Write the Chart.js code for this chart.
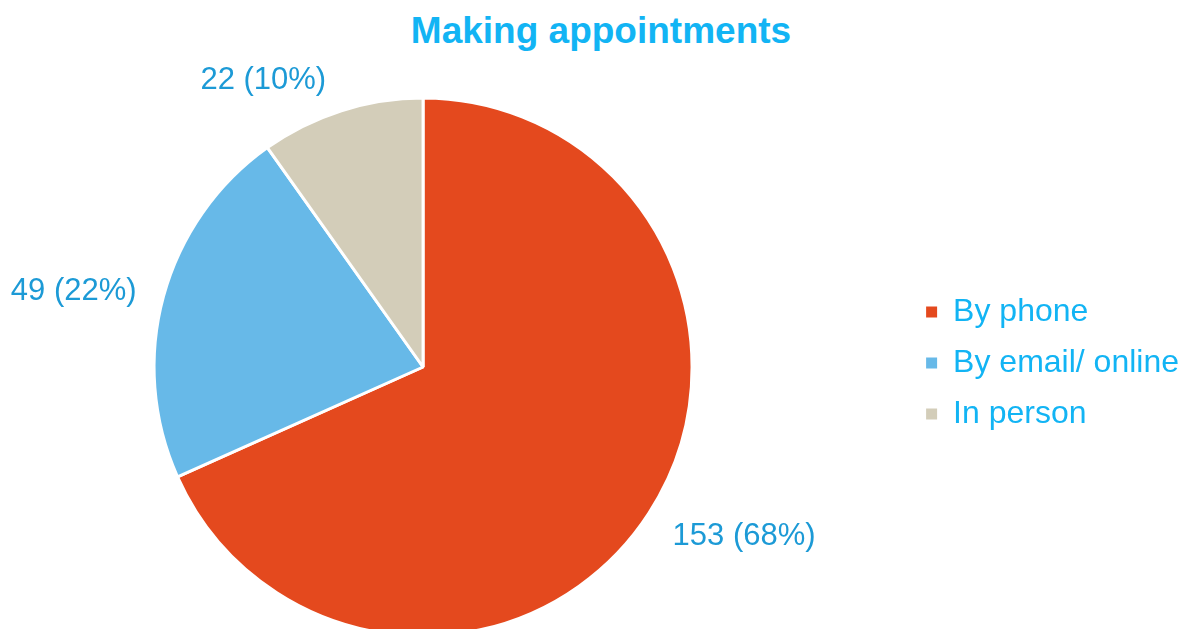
<!DOCTYPE html>
<html>
<head>
<meta charset="utf-8">
<script src="https://cdn.jsdelivr.net/npm/chart.js@4.4.1/dist/chart.umd.min.js"></script>
<style>
    html, body { margin: 0; padding: 0; background: #fff; overflow: hidden; width: 1185px; height: 629px; }
    #title {
        position: absolute; left: 0; top: 12px; width: 1202px;
        text-align: center; font: bold 37px "Liberation Sans", Arial, sans-serif;
        line-height: 37px; color: #12B4F4;
    }
    #wrap { position: absolute; left: -61px; top: 0; width: 1250px; height: 734px; }
</style>
</head>
<body>
<div id="title">Making appointments</div>
<div id="wrap"><canvas id="pieChart"></canvas></div>
<script>
// --------------------- DATA ------------------------
const categories = ['By phone', 'By email/ online', 'In person'];
const counts = [153, 49, 22];
const sliceColors = ['#E4491E', '#67B9E8', '#D3CDB9'];

// small hand nudges for the value labels (px), Excel moved these a bit
const labelNudge = [[16, 5], [-7, 4], [-52, 2]];

const labelColor = '#1C9AD6';
const textColor = '#12B4F4';

// --------------------- VALUE LABELS ------------------------
const valueLabels = {
    id: 'valueLabels',
    afterDatasetsDraw(chart) {
        const ctx = chart.ctx;
        const meta = chart.getDatasetMeta(0);
        const total = counts.reduce((a, b) => a + b, 0);

        ctx.save();
        ctx.font = '31px "Liberation Sans", Arial, sans-serif';
        ctx.fillStyle = labelColor;
        ctx.textAlign = 'center';
        ctx.textBaseline = 'middle';

        meta.data.forEach((arc, i) => {
            let p = arc.getProps(['x', 'y', 'startAngle', 'endAngle', 'outerRadius'], true);
            let mid = (p.startAngle + p.endAngle) / 2;
            let dx = Math.cos(mid), dy = Math.sin(mid);
            let txt = counts[i] + ' (' + Math.round(counts[i] / total * 100) + '%)';
            let w = ctx.measureText(txt).width;
            let r = p.outerRadius + 23;
            let x = p.x + r * dx + dx * w / 2 + labelNudge[i][0];
            let y = p.y + r * dy + dy * 11 + labelNudge[i][1];
            ctx.fillText(txt, x, y);
        });
        ctx.restore();
    }
};

// --------------------- PIE CHART ------------------------
const ctx = document.getElementById('pieChart').getContext('2d');
let pieChart = new Chart(ctx, {
    type: 'pie',
    data: {
        labels: categories,
        datasets: [{
            data: counts,
            backgroundColor: sliceColors,
            borderColor: '#ffffff',
            borderWidth: 3,
            radius: 269,
            clip: false
        }]
    },
    options: {
        responsive: true,
        maintainAspectRatio: false,
        animation: false,
        layout: { padding: 0 },
        plugins: {
            title: { display: false },
            tooltip: { enabled: false },
            legend: {
                position: 'right',
                // empty title with negative padding just lifts the items a few px
                title: { display: true, text: '', font: { size: 1, lineHeight: 1 }, padding: { top: -9, bottom: 0 } },
                labels: {
                    color: textColor,
                    font: { family: '"Liberation Sans", Arial, sans-serif', size: 32 },
                    boxWidth: 11,
                    boxHeight: 11,
                    padding: 19,
                    generateLabels: (chart) =>
                        Chart.overrides.pie.plugins.legend.labels.generateLabels(chart)
                            .map(l => ({ ...l, lineWidth: 0 }))
                }
            }
        }
    },
    plugins: [valueLabels]
});
</script>
</body>
</html>
